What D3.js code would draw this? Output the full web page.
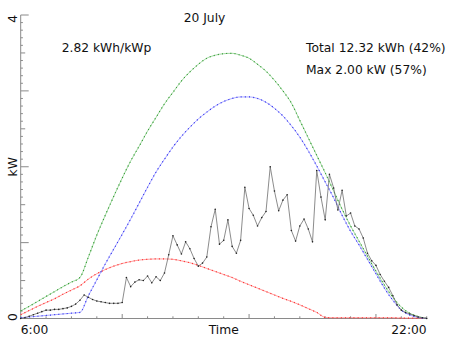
<!DOCTYPE html>
<html>
<head>
<meta charset="utf-8">
<script src="https://cdn.jsdelivr.net/npm/d3@7/dist/d3.min.js"></script>
<style>
  html, body { margin: 0; padding: 0; background: #fff; }
  svg { display: block; font-family: "DejaVu Sans", sans-serif; }
</style>
</head>
<body>
<svg id="chart" width="452" height="339"></svg>
<script>
// Day of PV output, 20 July: measured power every 10 minutes, model curves every 20 minutes.
const dayTitle = "20 July";
const specificYield = "2.82 kWh/kWp";
const totalText = "Total 12.32 kWh (42%)";
const maxText = "Max 2.00 kW (57%)";

const startHour = 6;
const endHour = 22;
const measuredStepMin = 10;
const modelStepMin = 20;

// measured power, kW
const measured = [
  0.00, 0.01, 0.03, 0.05, 0.07, 0.09, 0.11, 0.11, 0.12, 0.12,
  0.13, 0.14, 0.16, 0.19, 0.24, 0.31, 0.28, 0.25, 0.23, 0.22,
  0.21, 0.20, 0.20, 0.20, 0.21, 0.54, 0.42, 0.48, 0.51, 0.50,
  0.56, 0.47, 0.55, 0.50, 0.60, 0.84, 1.09, 0.97, 0.85, 1.01,
  0.92, 0.79, 0.69, 0.73, 0.81, 1.21, 1.44, 0.98, 1.03, 1.30,
  0.95, 0.86, 1.03, 1.73, 1.45, 1.36, 1.22, 1.33, 1.41, 2.00,
  1.68, 1.42, 1.56, 1.63, 1.16, 1.02, 1.22, 1.31, 1.18, 1.01,
  1.95, 1.60, 1.30, 1.90, 1.72, 1.43, 1.69, 1.35, 1.39, 1.22,
  1.18, 1.06, 0.86, 0.76, 0.70, 0.58, 0.49, 0.41, 0.30, 0.18,
  0.11, 0.08, 0.06, 0.04, 0.02, 0.01, 0.00
];

// clear-sky model (green)
const clearSky = [
  0.10, 0.16, 0.225, 0.29, 0.355, 0.42, 0.48, 0.54,
  0.81, 1.10, 1.36, 1.61, 1.85, 2.075, 2.27, 2.47, 2.65, 2.83, 2.98, 3.13, 3.25, 3.35, 3.43, 3.47,
  3.49, 3.495, 3.47, 3.43, 3.35, 3.26, 3.14, 3.00, 2.84,
  2.61, 2.38, 2.15, 1.92, 1.68, 1.44, 1.22, 1.02, 0.82, 0.625, 0.44, 0.28, 0.15, 0.07, 0.025, 0.0
];

// direct-beam model (blue)
const direct = [
  0.01, 0.02, 0.03, 0.04, 0.05, 0.06, 0.07, 0.08,
  0.30, 0.51, 0.72, 0.915, 1.11, 1.31, 1.52, 1.73, 1.93, 2.10, 2.26, 2.40, 2.52, 2.63, 2.72, 2.80,
  2.86, 2.90, 2.92, 2.92, 2.90, 2.85, 2.77, 2.67, 2.54,
  2.39, 2.21, 2.01, 1.80, 1.59, 1.36, 1.15, 0.97, 0.78, 0.59, 0.40, 0.24, 0.11, 0.045, 0.015, 0.0
];

// diffuse model (red)
const diffuse = [
  0.05, 0.105, 0.16, 0.21, 0.26, 0.32, 0.375, 0.43,
  0.52, 0.59, 0.645, 0.69, 0.725, 0.75, 0.77, 0.78,
  0.785, 0.785, 0.78, 0.76, 0.735, 0.70, 0.66, 0.62,
  0.58, 0.54, 0.49, 0.445, 0.40, 0.355, 0.31, 0.265,
  0.225, 0.18, 0.13, 0.08, 0.015,
  0.01, 0.01, 0.01, 0.01, 0.01, 0.01, 0.01, 0.01, 0.005, 0.005, 0.005, 0.0
];

const xTickLabels = ["6:00", "22:00"];
const yTickLabels = ["0", "4"];
const xTitle = "Time";
const yTitle = "kW";

const svg = d3.select("#chart");
const plotLeft = 20.7, plotRight = 426.7, plotTop = 15, plotBottom = 318.5;

const x = d3.scaleLinear().domain([startHour, endHour]).range([plotLeft, plotRight]);
const y = d3.scaleLinear().domain([0, 4]).range([plotBottom, plotTop]);

const axisColor = "#8a8a8a";

// y axis: tenths, halves and whole kW with growing tick lengths
const yAxisG = svg.append("g").attr("transform", `translate(${plotLeft},0)`);
yAxisG.append("line").attr("x1", 0).attr("x2", 0).attr("y1", y(0)).attr("y2", y(4))
  .attr("stroke", axisColor).attr("stroke-width", 1);
d3.range(0, 41).forEach(i => {
  const len = i % 10 === 0 ? 8 : (i % 5 === 0 ? 4.5 : 2.2);
  yAxisG.append("line").attr("x1", 0).attr("x2", len)
    .attr("y1", y(i / 10)).attr("y2", y(i / 10))
    .attr("stroke", axisColor).attr("stroke-width", 1);
});

// x axis: hourly ticks
const xAxisG = svg.append("g").attr("transform", `translate(0,${plotBottom})`);
xAxisG.append("line").attr("x1", x(startHour)).attr("x2", x(endHour)).attr("y1", 0).attr("y2", 0)
  .attr("stroke", axisColor).attr("stroke-width", 1);
d3.range(startHour, endHour + 1).forEach(h => {
  const len = (h === 10 || h === 15 || h === 20) ? 4.5 : 2.2;
  xAxisG.append("line").attr("x1", x(h)).attr("x2", x(h)).attr("y1", 0).attr("y2", -len)
    .attr("stroke", axisColor).attr("stroke-width", 1);
});

const fs = "12.3px";
const textColor = "#111";

// axis labels
svg.append("text").attr("x", x(startHour)).attr("y", 334).attr("text-anchor", "start")
  .attr("font-size", fs).attr("fill", textColor).text(xTickLabels[0]);
svg.append("text").attr("x", x(endHour)).attr("y", 334).attr("text-anchor", "end")
  .attr("font-size", fs).attr("fill", textColor).text(xTickLabels[1]);
svg.append("text").attr("x", (plotLeft + plotRight) / 2).attr("y", 334).attr("text-anchor", "middle")
  .attr("font-size", fs).attr("fill", textColor).text(xTitle);

svg.append("text").attr("transform", `translate(16.6,${y(0) + 2.5}) rotate(-90)`)
  .attr("text-anchor", "start").attr("font-size", fs).attr("fill", textColor).text(yTickLabels[0]);
svg.append("text").attr("transform", `translate(16.6,${y(4)}) rotate(-90)`)
  .attr("text-anchor", "end").attr("font-size", fs).attr("fill", textColor).text(yTickLabels[1]);
svg.append("text").attr("transform", `translate(16.6,${y(2)}) rotate(-90)`)
  .attr("text-anchor", "middle").attr("font-size", fs).attr("fill", textColor).text(yTitle);

// annotations
svg.append("text").attr("x", 204.5).attr("y", 21.7).attr("text-anchor", "middle")
  .attr("font-size", fs).attr("fill", textColor).text(dayTitle);
svg.append("text").attr("x", 61.7).attr("y", 52).attr("font-size", fs).attr("fill", textColor).text(specificYield);
svg.append("text").attr("x", 306).attr("y", 52).attr("font-size", fs).attr("fill", textColor).text(totalText);
svg.append("text").attr("x", 306).attr("y", 73.5).attr("font-size", fs).attr("fill", textColor).text(maxText);

// model curves: thin line with a fine dotted overlay
const modelTime = i => startHour + i * modelStepMin / 60;
const modelLine = d3.line().x((d, i) => x(modelTime(i))).y(d => y(d)).curve(d3.curveMonotoneX);

function drawModel(values, lineColor, dotColor) {
  svg.append("path").datum(values).attr("d", modelLine)
    .attr("fill", "none").attr("stroke", lineColor).attr("stroke-width", 0.8)
    .attr("stroke-opacity", 0.8);
  svg.append("path").datum(values).attr("d", modelLine)
    .attr("fill", "none").attr("stroke", dotColor).attr("stroke-width", 1.2)
    .attr("stroke-dasharray", "1 3.2");
}
drawModel(diffuse, "#ff6a6a", "#ff2a2a");
drawModel(clearSky, "#6cc06c", "#2f9a2f");
drawModel(direct, "#7a7aff", "#3030f0");

// measured power
const measTime = i => startHour + i * measuredStepMin / 60;
const measLine = d3.line().x((d, i) => x(measTime(i))).y(d => y(d));
svg.append("path").datum(measured).attr("d", measLine)
  .attr("fill", "none").attr("stroke", "#6e6e6e").attr("stroke-width", 0.8);
svg.append("g").selectAll("circle").data(measured).join("circle")
  .attr("cx", (d, i) => x(measTime(i))).attr("cy", d => y(d)).attr("r", 0.8)
  .attr("fill", "#222");
</script>
</body>
</html>
